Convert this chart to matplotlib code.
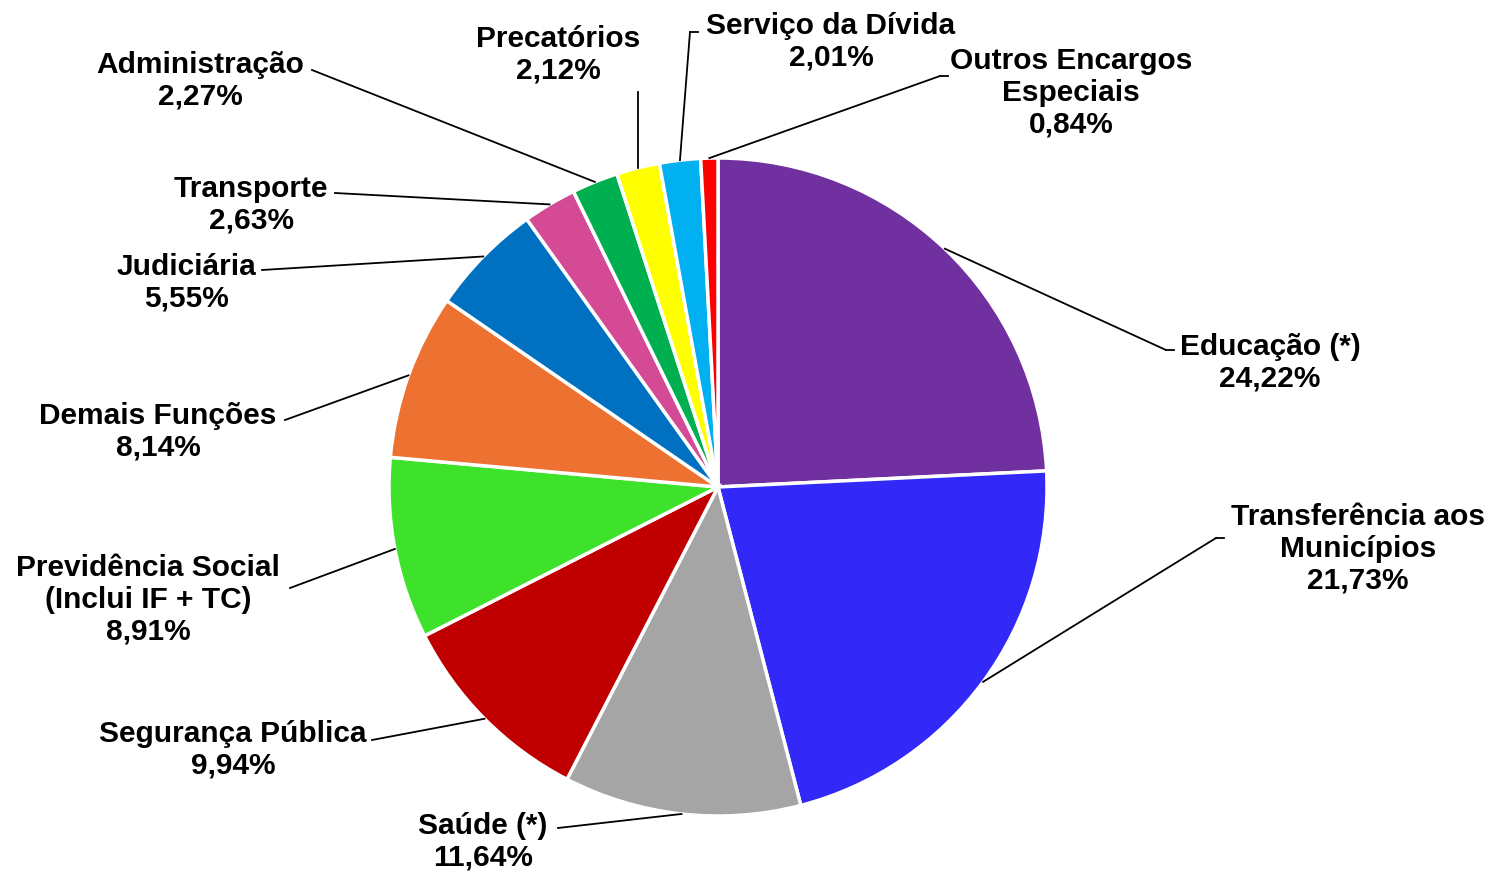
import numpy as np
import matplotlib
matplotlib.use("Agg")
import matplotlib.pyplot as plt

labels = ['Educação (*)', 'Transferência aos\nMunicípios', 'Saúde (*)', 'Segurança Pública',
          'Previdência Social\n(Inclui IF + TC)', 'Demais Funções', 'Judiciária', 'Transporte',
          'Administração', 'Precatórios', 'Serviço da Dívida', 'Outros Encargos\nEspeciais']
values = [24.22, 21.73, 11.64, 9.94, 8.91, 8.14, 5.55, 2.63, 2.27, 2.12, 2.01, 0.84]
colors = ['#7030A0', '#3229F9', '#A5A5A5', '#C00000', '#3EE22B', '#ED7130',
          '#0070C0', '#D44A94', '#00B050', '#FFFF00', '#00B0F0', '#FF0000']

W, H = 1492, 874
cx, cy, R = 718, 487, 329

# label text centres and leader end points (pixels, from top-left)
text_pos = [(1270, 363), (1358, 549), (483, 842), (233, 750), (148, 600), (158, 432),
            (186, 283), (251, 205), (200, 81), (558, 55), (831, 42), (1071, 93)]
line_end = [(1166, 350), (1216, 538), (558, 828), (372, 740), (290, 588), (285, 420),
            (262, 270), (335, 193), (312, 70), (638, 92), (690, 32), (940, 76)]
tail_end = [(1174, 350), (1224, 538), None, None, None, None,
            None, None, None, None, (698, 32), (948, 76)]

fig = plt.figure(figsize=(W / 100, H / 100), dpi=100)
ax = fig.add_axes([0, 0, 1, 1])

ax.pie(values, colors=colors, startangle=90, counterclock=False,
       center=(cx, H - cy), radius=R,
       wedgeprops=dict(edgecolor='white', linewidth=2.5))
ax.set_xlim(0, W)
ax.set_ylim(0, H)
ax.set_aspect('equal')
ax.axis('off')

cum = np.cumsum([0] + values[:-1])
for i, lab in enumerate(labels):
    mid = 90 - (cum[i] + values[i] / 2) * 3.6
    ax_x = cx + R * np.cos(np.radians(mid))
    ax_y = H - cy + R * np.sin(np.radians(mid))
    ex, ey = line_end[i]
    ax.plot([ax_x, ex], [ax_y, H - ey], color='black', lw=1.3)
    if tail_end[i] is not None:
        tx, ty = tail_end[i]
        ax.plot([ex, tx], [H - ey, H - ty], color='black', lw=1.3)
    txt = lab + '\n' + f'{values[i]:.2f}'.replace('.', ',') + '%'
    px, py = text_pos[i]
    ax.text(px, H - py, txt, ha='center', va='center', fontsize=21.5,
            fontweight='bold', family='Liberation Sans', linespacing=1.17)

plt.savefig('out.png', dpi=100)
